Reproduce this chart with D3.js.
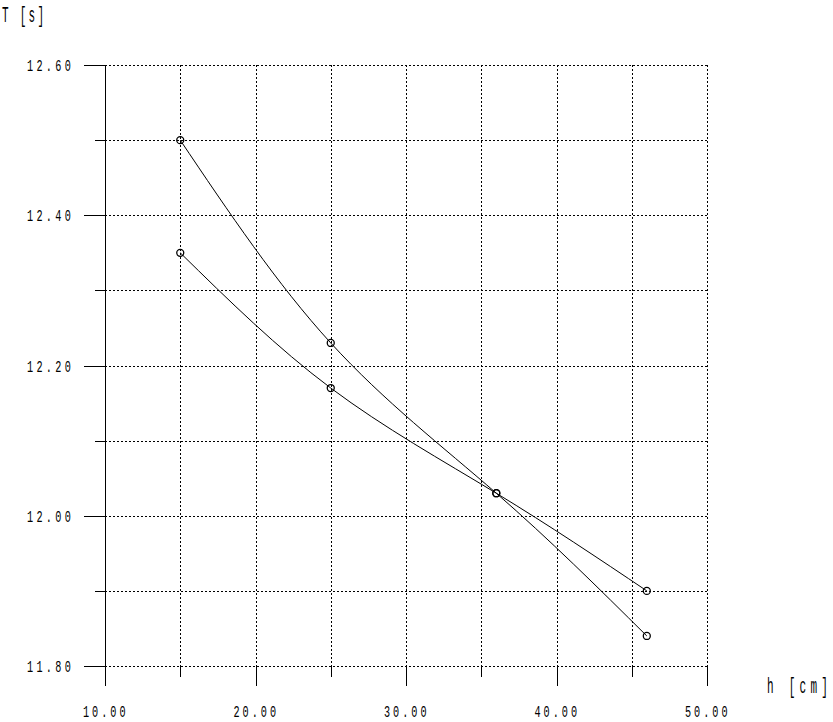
<!DOCTYPE html>
<html>
<head>
<meta charset="utf-8">
<script src="https://cdn.jsdelivr.net/npm/d3@7"></script>
<style>
  html, body { margin: 0; padding: 0; background: #fff; }
  svg { display: block; }
  text { font-family: "Liberation Mono", "DejaVu Sans Mono", monospace; fill: #000; }
</style>
</head>
<body>
<svg id="chart" width="833" height="722"></svg>
<script>
// ---- data ----
const hValues = [15, 25, 36, 46];
const seriesA = [12.50, 12.23, 12.03, 11.84];
const seriesB = [12.35, 12.17, 12.03, 11.90];
const xTickLabels = ["10.00", "20.00", "30.00", "40.00", "50.00"];
const yTickLabels = ["11.80", "12.00", "12.20", "12.40", "12.60"];
const xTitle = "h [cm]";
const yTitle = "T [s]";

const svg = d3.select("#chart");
svg.append("rect").attr("width", 833).attr("height", 722).attr("fill", "#fff");

const x = d3.scaleLinear().domain([10, 50]).range([105, 707]);
const y = d3.scaleLinear().domain([11.8, 12.6]).range([666, 65]);

const xGrid = d3.range(15, 50.01, 5);
const yGrid = d3.range(11.8, 12.601, 0.1).map(v => +v.toFixed(2));

// dotted grid
const g = svg.append("g").attr("stroke", "#000").attr("stroke-width", 1)
  .attr("stroke-dasharray", "2,2").attr("shape-rendering", "crispEdges");
g.selectAll("line.v").data(xGrid).join("line")
  .attr("x1", d => Math.round(x(d)) + 0.5).attr("x2", d => Math.round(x(d)) + 0.5)
  .attr("y1", y(12.6)).attr("y2", y(11.8));
g.selectAll("line.h").data(yGrid).join("line")
  .attr("y1", d => Math.round(y(d)) + 0.5).attr("y2", d => Math.round(y(d)) + 0.5)
  .attr("x1", x(10)).attr("x2", x(50));

// solid axis & ticks
const a = svg.append("g").attr("stroke", "#000").attr("stroke-width", 1)
  .attr("shape-rendering", "crispEdges");
a.append("line").attr("x1", x(10) + 0.5).attr("x2", x(10) + 0.5)
  .attr("y1", y(12.6)).attr("y2", y(11.8) + 20);
a.selectAll("line.xt").data(xGrid).join("line")
  .attr("x1", d => Math.round(x(d)) + 0.5).attr("x2", d => Math.round(x(d)) + 0.5)
  .attr("y1", y(11.8)).attr("y2", d => y(11.8) + (d % 10 === 0 ? 20 : 11));
a.selectAll("line.yt").data(yGrid).join("line")
  .attr("y1", d => Math.round(y(d)) + 0.5).attr("y2", d => Math.round(y(d)) + 0.5)
  .attr("x1", d => x(10) - (Math.round(d * 10) % 2 === 0 ? 21 : 10)).attr("x2", x(10));

// tick labels (narrow monospaced look)
function label(txt, x0, base, size, sx, ls) {
  svg.append("text")
    .attr("transform", `translate(${x0},${base}) scale(${sx},1)`)
    .attr("font-size", size)
    .attr("letter-spacing", ls)
    .text(txt);
}
const yVals = yTickLabels.map(Number);
yTickLabels.forEach((t, i) => label(t, 27, y(yVals[i]) + 6, 17, 0.6, 5.5));
const xVals = xTickLabels.map(Number);
xTickLabels.forEach((t, i) => label(t, x(xVals[i]) - 22, 717, 17, 0.6, 5.0));

label(yTitle, 2, 22, 22, 0.5, 4.5);
label(xTitle, 767, 693, 22, 0.5, 8.5);

// series
const line = d3.line().x((d, i) => x(hValues[i])).y(d => y(d)).curve(d3.curveNatural);
[seriesA, seriesB].forEach(s => {
  svg.append("path").attr("d", line(s)).attr("fill", "none")
    .attr("stroke", "#000").attr("stroke-width", 1);
  svg.selectAll(null).data(s).join("circle")
    .attr("cx", (d, i) => x(hValues[i])).attr("cy", d => y(d)).attr("r", 3.5)
    .attr("fill", "none").attr("stroke", "#000").attr("stroke-width", 1.3);
});
</script>
</body>
</html>
